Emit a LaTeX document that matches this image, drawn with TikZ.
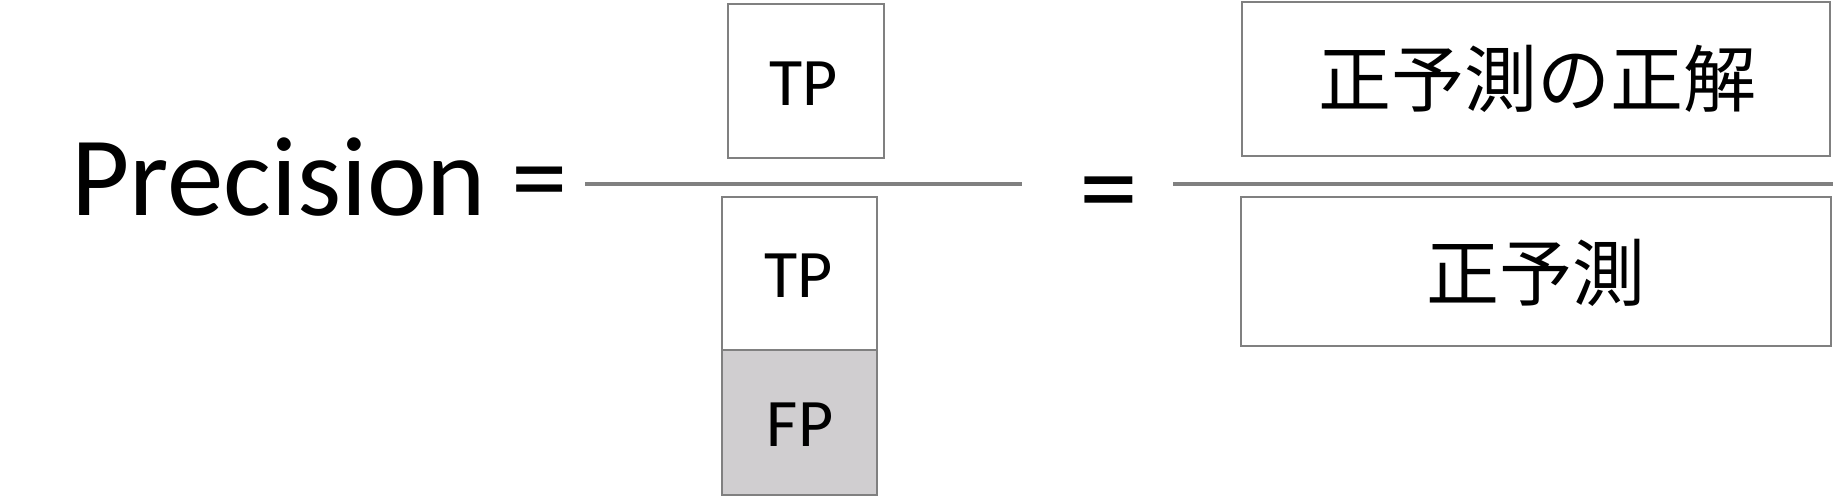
\documentclass[tikz,border=0pt]{standalone}
\usepackage{fontspec}
\setmainfont{Carlito}
\newfontfamily\jpfont{Noto Sans CJK JP}
\definecolor{edge}{RGB}{128,128,128}
\definecolor{fpfill}{RGB}{208,206,208}
\begin{document}
\begin{tikzpicture}[x=1pt,y=-1pt,
  box/.style={draw=edge,line width=2pt,inner sep=0pt,outer sep=0pt},
  fracline/.style={draw=edge,line width=3.5pt},
  lbl/.style={inner sep=0pt,outer sep=0pt}]
\useasboundingbox (0,0) rectangle (1835,496);
% left text
\node[lbl,anchor=base west,font=\fontsize{113}{113}\selectfont] (prec) at (71,215) {Precision =};
% left fraction
\node[box,minimum width=156pt,minimum height=154pt] (tp1) at (806,80.5) {};
\node[lbl,font=\fontsize{68}{68}\selectfont,anchor=base] (tp1t) at (804,105) {TP};
\node[box,minimum width=155pt,minimum height=153pt] (tp2) at (799.5,273.5) {};
\node[box,fill=fpfill,minimum width=155pt,minimum height=145pt] (fp) at (799.5,422.5) {};
\node[lbl,font=\fontsize{68}{68}\selectfont,anchor=base] (tp2t) at (799,297) {TP};
\node[lbl,font=\fontsize{68}{68}\selectfont,anchor=base] (fpt) at (800,446.5) {FP};
\coordinate (l1) at (585,184);
\coordinate (l2) at (1022,184);
\draw[fracline] (l1) -- (l2);
% middle equals
\node[lbl,font=\fontsize{118}{118}\selectfont,anchor=base] (eq) at (1109,227) {=};
% right fraction
\node[box,minimum width=588pt,minimum height=154pt] (num) at (1536,78.5) {};
\node[lbl,font=\jpfont\fontsize{73}{73}\selectfont] (numt) at (1537,79) {正予測の正解};
\node[box,minimum width=590pt,minimum height=149pt] (den) at (1535.5,271.5) {};
\node[lbl,font=\jpfont\fontsize{73}{73}\selectfont] (dent) at (1536,272.5) {正予測};
\coordinate (r1) at (1173,184);
\coordinate (r2) at (1833,184);
\draw[fracline] (r1) -- (r2);
\end{tikzpicture}
\end{document}
